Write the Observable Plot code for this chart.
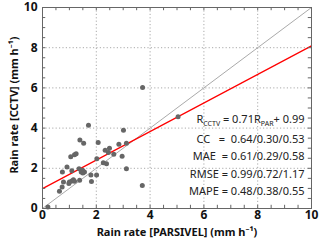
<!DOCTYPE html>
<html><head><meta charset="utf-8">
<script src="https://cdn.jsdelivr.net/npm/d3@7"></script>
<script src="https://cdn.jsdelivr.net/npm/@observablehq/plot@0.6"></script>
<style>
body{margin:0;background:#fff}
svg text{white-space:pre}
</style>
</head><body><div id="chart"></div>
<script>
// Scatter data: PARSIVEL rain rate (x) vs CCTV rain rate (y), mm/h
const parsivel = [0.20,0.63,0.73,0.78,0.74,0.91,0.98,1.05,1.09,1.09,1.15,1.19,1.00,1.19,1.25,1.38,1.39,1.36,1.49,1.56,1.44,1.50,1.53,1.71,1.80,1.82,2.01,2.02,2.07,2.26,2.38,2.33,2.45,2.49,2.65,2.84,2.96,3.01,3.12,3.12,3.71,3.72,5.04];
const cctv     = [0.07,0.86,1.07,1.32,1.82,2.07,1.24,2.58,1.88,1.37,1.43,1.35,1.32,2.68,2.73,1.40,3.41,1.98,1.90,1.82,1.82,1.77,3.25,4.14,1.67,1.34,1.67,2.48,3.28,2.28,2.23,2.90,2.78,3.00,2.70,3.20,2.60,3.89,3.25,1.98,1.14,6.02,4.56];
// Lines
const oneX = [0, 10], oneY = [0, 10];
const regX = [0, 10], regY = [0.99, 8.09];
// Ticks
const axisTicks = [0, 2, 4, 6, 8, 10];
const gridTicks = [2, 4, 6, 8];
const minorTicks = [0.5,1,1.5,2,2.5,3,3.5,4,4.5,5,5.5,6,6.5,7,7.5,8,8.5,9,9.5];
// Labels
const xLabel = "Rain rate [PARSIVEL] (mm h⁻¹)";
const yLabel = "Rain rate [CCTV] (mm h⁻¹)";
const statLines = ["CC   =  0.64/0.30/0.53", "MAE  = 0.61/0.29/0.58", "RMSE = 0.99/0.72/1.17", "MAPE = 0.48/0.38/0.55"];
const eqParts = [["R",""],["CCTV","sub"],[" = 0.71R",""],["PAR","sub"],["+ 0.99",""]];

const points = parsivel.map((x, i) => ({x, y: cctv[i]}));
const oneLine = oneX.map((x, i) => ({x, y: oneY[i]}));
const regLine = regX.map((x, i) => ({x, y: regY[i]}));
const font = "'Noto Sans', sans-serif";
const tickColor = "#666";

const statMarks = statLines.map((s, i) => Plot.text([s], {
  text: d => d, frameAnchor: "bottom-right", textAnchor: "end", lineAnchor: "middle",
  dx: -7, dy: -(17 + (3 - i) * 17.5), fontSize: 11, fill: "#222"
}));
const eqMark = Plot.text(["EQ"], {
  text: d => d, frameAnchor: "bottom-right", textAnchor: "end", lineAnchor: "middle",
  dx: -7, dy: -(17 + 4 * 17.5 + 2), fontSize: 11, fill: "#222", className: "eqline"
});

const chart = Plot.plot({
  width: 320, height: 240,
  marginLeft: 42, marginRight: 9, marginTop: 7, marginBottom: 32,
  style: {fontFamily: font, background: "#fff", color: "#111"},
  x: {domain: [0, 10]},
  y: {domain: [0, 10]},
  marks: [
    Plot.gridX(gridTicks, {stroke: "#aaa", strokeOpacity: 1, strokeDasharray: "1.2,2.2"}),
    Plot.gridY(gridTicks, {stroke: "#aaa", strokeOpacity: 1, strokeDasharray: "1.2,2.2"}),
    Plot.line(oneLine, {x: "x", y: "y", stroke: "#aaa", strokeWidth: 1}),
    Plot.line(regLine, {x: "x", y: "y", stroke: "#f00", strokeWidth: 1.2}),
    Plot.dot(points, {x: "x", y: "y", r: 2.5, fill: "#666", stroke: "none"}),
    Plot.ruleY(minorTicks, {x1: 0, x2: 0.12, stroke: tickColor}),
    Plot.ruleY(minorTicks, {x1: 9.88, x2: 10, stroke: tickColor}),
    Plot.ruleX(minorTicks, {y1: 0, y2: 0.16, stroke: tickColor}),
    Plot.ruleX(minorTicks, {y1: 9.84, y2: 10, stroke: tickColor}),
    Plot.frame({stroke: tickColor}),
    Plot.axisX(axisTicks, {tickSize: 0, tickPadding: 2, fontSize: 12, fontWeight: "bold",
      label: null}),
    Plot.axisY(axisTicks, {tickSize: 0, tickPadding: 5, fontSize: 12, fontWeight: "bold",
      label: null}),
    Plot.text([xLabel], {text: d => d, frameAnchor: "bottom", textAnchor: "middle", lineAnchor: "middle", dy: 24,
      fontSize: 11, fontWeight: "bold", fill: "#111"}),
    Plot.text([yLabel], {text: d => d, frameAnchor: "left", textAnchor: "middle", lineAnchor: "middle",
      rotate: -90, dx: -28, dy: -3, fontSize: 11, fontWeight: "bold", fill: "#111"}),
    ...statMarks,
    eqMark
  ]
});
document.getElementById("chart").appendChild(chart);

// Build subscripts for the regression equation
const eqText = d3.select(chart).select("g.eqline text");
eqText.text(null);
eqParts.forEach(([t, kind], i) => {
  const ts = eqText.append("tspan").text(t);
  if (kind === "sub") ts.attr("font-size", 7).attr("dy", 3);
  else if (i > 0) ts.attr("dy", -3);
});
</script>
</body></html>
